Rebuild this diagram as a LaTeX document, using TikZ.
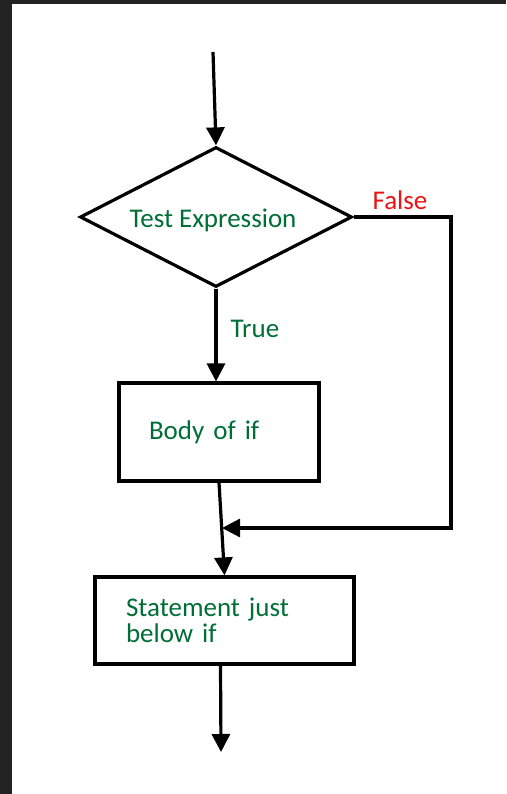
\documentclass[tikz,border=0pt]{standalone}
\usepackage{fontspec}
\setmainfont{Carlito}
\usetikzlibrary{shapes.geometric,arrows.meta}
\definecolor{txtgreen}{RGB}{0,110,55}
\definecolor{txtred}{RGB}{235,20,20}
\definecolor{frame}{RGB}{34,34,34}
\tikzset{
  flow/.style={line width=3.2pt, -{Triangle[length=18pt,width=18pt]}},
  decision/.style={diamond, draw, line width=3.2pt, minimum width=272pt, minimum height=140pt, inner sep=0pt},
  procbox/.style={rectangle, draw, line width=3.2pt, text=txtgreen, align=left, font=\fontsize{27}{26}\selectfont},
  lbl/.style={font=\fontsize{27}{26}\selectfont, inner sep=0pt}
}
\begin{document}
\begin{tikzpicture}[x=1pt,y=-1pt]
\useasboundingbox (0,0) rectangle (506,794);
\fill[frame] (0,0) rectangle (506,794);
\fill[white] (12,4) rectangle (506,794);

\node[decision] (dec) at (216,217) {};
\node[text=txtgreen, lbl] (dectext) at (213,220) {Test Expression};
\node[procbox, minimum height=98pt, text width=140pt, inner xsep=30pt] (body) at (219,432) {Body of if};
\node[procbox, minimum height=87pt, text width=197pt, inner xsep=31pt] (stmt) at (224.5,620.5) {Statement just\\below if};

\coordinate (start) at (213,52);
\coordinate (corner1) at (451,217);
\coordinate (corner2) at (451,528);
\coordinate (merge) at (222,528);
\coordinate (finish) at (221,752);

\draw[flow] (start) -- (dec.north);
\draw[flow] (dec.south) -- (dec.south |- body.north);
\draw[flow] (body.south) -- (stmt.north);
\draw[flow] (dec.east) -- (corner1) -- (corner2) -- (merge);
\draw[flow] ([xshift=-4pt]stmt.south) -- (finish);

\node[lbl, text=txtgreen] (truelbl) at (255,329) {True};
\node[lbl, text=txtred] (falselbl) at (400,200) {False};
\end{tikzpicture}
\end{document}
